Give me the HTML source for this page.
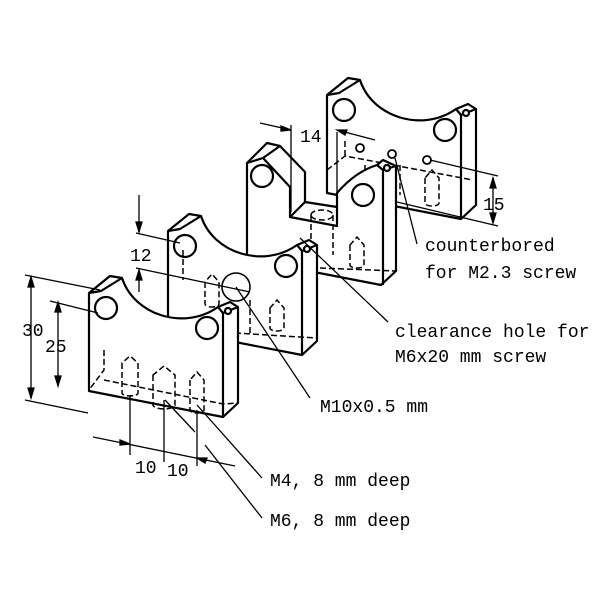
<!DOCTYPE html>
<html><head><style>body{margin:0;background:#fff}svg{display:block}text{font-family:"Liberation Mono",monospace;font-size:18px;fill:#000}</style></head>
<body>
<svg width="600" height="600" viewBox="0 0 600 600" xmlns="http://www.w3.org/2000/svg">
<defs>
<g id="blk" fill="#fff" stroke="#000" stroke-width="2.2" stroke-linejoin="round">
<path d="M0,0 L21,-17 L33,-15 C45,22 95,38 129,14 L141,9 L149,14 L149,110 L134,124 L0,98 Z"/>
<path d="M0,0 L12,-2 L33,-15 M129,14 L134,20 L149,14 M134,20 L134,124" fill="none"/>
<circle cx="17" cy="15" r="11"/><circle cx="118" cy="35" r="11"/><circle cx="139" cy="18" r="3"/>
</g>
</defs>
<g stroke="#000" fill="none" stroke-width="1.3">
<use href="#blk" x="327" y="95"/>
<g stroke-dasharray="6,3" stroke-width="1.5"><path d="M327,170 L345,156 L473,180 M345,156 L345,140"/><path d="M425,178 v25 a7,3 0 0 0 14,0 v-25 l-7,-8 z"/><path d="M365,165 v20 M400,165 v30"/></g>
<circle cx="360" cy="148" r="4" fill="#fff" stroke-width="1.8"/><circle cx="392" cy="154" r="4" fill="#fff" stroke-width="1.8"/><circle cx="427" cy="160" r="4" fill="#fff" stroke-width="1.8"/>
<g fill="#fff" stroke-width="2.2" stroke-linejoin="round">
<path d="M247,163 L267,143 L280,146 L305,172 L305,202 L337,207 L337,193 Q355,172 377,165 L383,160 L396,166 L396,271 L381,285 L247,259 Z"/>
<path d="M247,163 L263,158 L290,187 L290,217 L337,226 L337,207 M263,158 L280,146 M290,217 L305,202 M377,165 L383,170 L396,166 M383,170 V285" fill="none"/>
<circle cx="262" cy="176" r="11"/><circle cx="363" cy="195" r="11"/><circle cx="387" cy="168" r="3"/>
</g>
<g stroke-dasharray="6,3" stroke-width="1.5"><path d="M311,215 v45 M333,215 v40 M311,215 a11,5 0 0 1 22,0 a11,5 0 0 1 -22,0"/><path d="M350,245 v20 a7,3 0 0 0 14,0 v-20 l-7,-8 z"/><path d="M320,268 L396,271"/></g>
<use href="#blk" x="168" y="231"/>
<g stroke-dasharray="6,3" stroke-width="1.5"><path d="M183,250 v30 M205,282 v22 a7,3 0 0 0 14,0 v-22 l-7,-8 z"/><path d="M270,308 v20 a7,3 0 0 0 14,0 v-20 l-7,-8 z M250,300 v35 M235,333 L316,338"/></g>
<use href="#blk" x="89" y="293"/>
<g stroke-dasharray="6,3" stroke-width="1.5">
<path d="M104,350 v20 L89,390 M104,380 L223,404 L238,403"/>
<path d="M122,363 v30 a8,3 0 0 0 16,0 v-30 l-8,-7 z"/>
<path d="M153,375 v30 a11,4 0 0 0 22,0 v-30 l-11,-9 z"/>
<path d="M190,380 v30 a7,3 0 0 0 14,0 v-30 l-7,-8 z"/>
</g>
<circle cx="236" cy="287" r="14" stroke-width="1.6"/>
<path d="M25,275 L100,290 M25,400 L88,413 M31,277 V398 M50,301 L98,313 M58,302 V386"/>
<path d="M31,277 l-3,10 h6z M31,398 l-3,-10 h6z M58,302 l-3,10 h6z M58,386 l-3,-10 h6z" fill="#000"/>
<path d="M136,233 L180,243 M136,268 L250,292 M139,195 V232 M139,270 V292"/>
<path d="M139,232 l-3,-10 h6z M139,270 l-3,10 h6z" fill="#000"/>
<path d="M130,395 V455 M164,400 V462 M197,410 V466 M93,437 L235,466"/>
<path d="M130,444 l-10,-4 0,5z M197,458 l10,0 -2,5z" fill="#000"/>
<path d="M197,405 L262,478 M165,400 L195,432 M205,445 L262,518 M236,287 L310,398 M300,238 L388,322"/>
<path d="M260,123 L291,130 M291,125 V212 M337,132 V200 M337,130 L375,140 M395,158 L417,244 M430,160 L498,176 M397,202 L498,226 M493,178 V223"/>
<path d="M291,130 l-10,-4 0,5z M337,130 l10,0 -2,5z M493,178 l-3,10 h6z M493,223 l-3,-10 h6z" fill="#000"/>
</g>
<text x="300" y="142">14</text><text x="483" y="210">15</text>
<text x="22" y="336">30</text><text x="45" y="352">25</text><text x="130" y="261">12</text>
<text x="135" y="473">10</text><text x="167" y="476">10</text>
<text x="425" y="251">counterbored</text><text x="425" y="278">for M2.3 screw</text>
<text x="395" y="337">clearance hole for</text><text x="395" y="362">M6x20 mm screw</text>
<text x="320" y="412">M10x0.5 mm</text>
<text x="270" y="486">M4, 8 mm deep</text><text x="270" y="526">M6, 8 mm deep</text>
</svg>
</body></html>
